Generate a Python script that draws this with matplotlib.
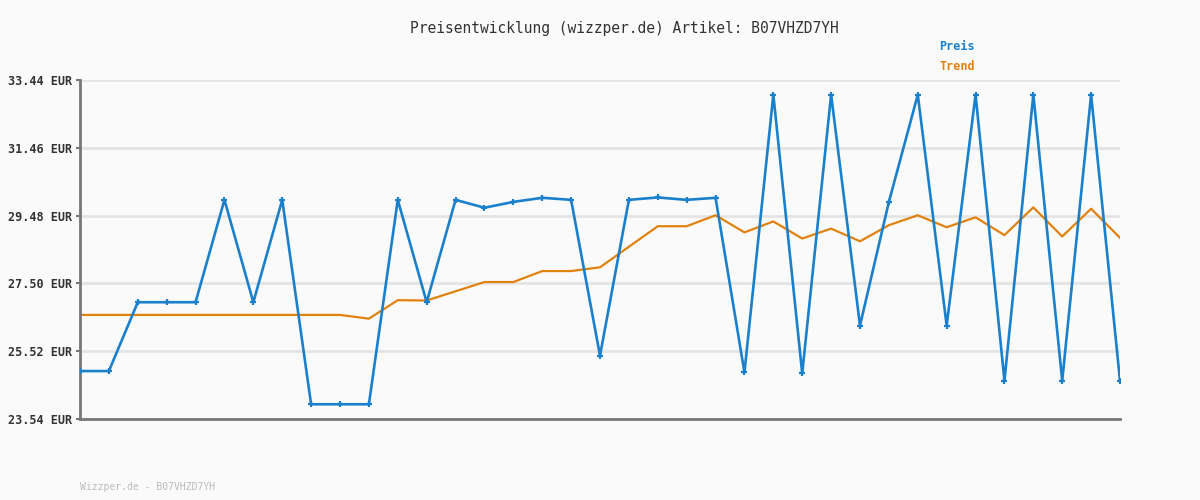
import matplotlib
matplotlib.use("Agg")
import matplotlib.pyplot as plt

title = "Preisentwicklung (wizzper.de) Artikel: B07VHZD7YH"
footer = "Wizzper.de - B07VHZD7YH"
ytick_values = [23.54, 25.52, 27.50, 29.48, 31.46, 33.44]

preis = [24.94, 24.94, 26.95, 26.95, 26.95, 29.94, 26.95, 29.94, 23.97, 23.97,
         23.97, 29.94, 26.95, 29.94, 29.71, 29.88, 30.00, 29.94, 25.39, 29.94,
         30.01, 29.94, 30.00, 24.90, 33.01, 24.87, 33.01, 26.27, 29.88, 33.01,
         26.27, 33.01, 24.66, 33.01, 24.66, 33.01, 24.66]
trend = [26.58, 26.58, 26.58, 26.58, 26.58, 26.58, 26.58, 26.58, 26.58, 26.58,
         26.47, 27.01, 27.00, 27.27, 27.54, 27.54, 27.86, 27.86, 27.97, 28.57,
         29.17, 29.17, 29.49, 28.99, 29.31, 28.81, 29.10, 28.73, 29.20, 29.49,
         29.14, 29.43, 28.91, 29.72, 28.87, 29.68, 28.83]

blue = "#1a80cc"
orange = "#e0820f"
bg = "#fafafa"

fig = plt.figure(figsize=(12, 5), dpi=100, facecolor=bg)
ax = fig.add_axes([80/1200, 81/500, 1040/1200, 339/500], facecolor=bg)

x = list(range(len(preis)))
for v in ytick_values:
    ax.axhline(v, color="#e4e4e4", lw=2, zorder=0)
ax.plot(x, trend, color=orange, lw=1.6, zorder=2)
ax.plot(x, preis, color=blue, lw=1.9, marker="+", markersize=5, mew=1.6, zorder=3)

ax.set_xlim(0, len(preis) - 1)
ax.set_ylim(ytick_values[0], ytick_values[-1])
ax.set_xticks([])
ax.set_yticks(ytick_values)
ax.set_yticklabels([f"{v:.2f} EUR" for v in ytick_values], family="DejaVu Sans Mono",
                   fontsize=8.5, color="#333333", fontweight="bold")
ax.tick_params(axis="y", length=3, width=1.5, color="#777777", pad=3)
for s in ("top", "right"):
    ax.spines[s].set_visible(False)
for s in ("left", "bottom"):
    ax.spines[s].set_color("#777777")
    ax.spines[s].set_linewidth(2)

fig.text(624/1200, 1 - 28/500, title, ha="center", va="center",
         family="DejaVu Sans Mono", fontsize=10.5, color="#333333")
fig.text(939/1200, 1 - 47/500, "Preis", ha="left", va="center",
         family="DejaVu Sans Mono", fontsize=8.5, color=blue, fontweight="bold")
fig.text(939/1200, 1 - 67/500, "Trend", ha="left", va="center",
         family="DejaVu Sans Mono", fontsize=8.5, color=orange, fontweight="bold")
fig.text(80/1200, 1 - 487/500, footer, ha="left", va="center",
         family="DejaVu Sans Mono", fontsize=7, color="#bbbbbb")

fig.savefig("out.png", dpi=100, facecolor=bg)
